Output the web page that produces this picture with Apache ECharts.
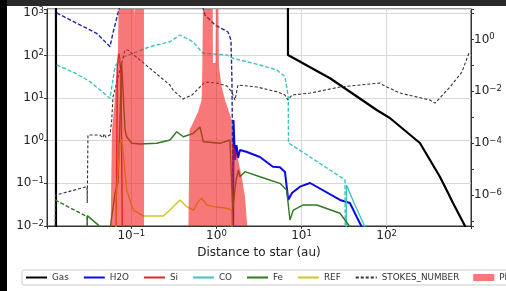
<!DOCTYPE html>
<html>
<head>
<meta charset="utf-8">
<script src="https://cdn.jsdelivr.net/npm/echarts@6/dist/echarts.min.js"></script>
<style>
  html, body { margin: 0; padding: 0; background: #fff; }
  #chart { width: 506px; height: 291px; }
</style>
</head>
<body>
<div id="chart"></div>
<script>
// distance (au), value pairs
var gas = [[0.013, 0.001], [0.013, 1e5], [6.9, 1e5], [6.93, 102.6], [21.6, 29.2], [28.3, 20.3], [76.4, 5.26],
    [109, 3.41], [246, 0.885], [323, 0.353], [424, 0.141], [529, 0.0585], [602, 0.0347], [833, 0.01], [879, 0.0062]];
var h2oIce = [[1.566, 0.001], [1.585, 3.07], [1.651, 0.353], [1.72, 0.794], [1.79, 0.394], [1.89, 0.606], [2.28, 0.545],
    [3.24, 0.416], [4.61, 0.246], [5.57, 0.238], [6.38, 0.185], [6.98, 0.0408], [7.71, 0.0594], [9.57, 0.0836],
    [12.6, 0.102], [28.3, 0.0408], [37.0, 0.0347], [44.4, 0.0165], [50.9, 0.0096], [53, 0.005]];
var h2oGas = [[0.01327, 993], [0.02278, 569], [0.0391, 331], [0.0561, 161], [0.0608, 337], [0.0697, 993], [0.0798, 2500],
    [0.64, 2500], [0.733, 891], [0.962, 519], [1.366, 355], [1.48, 231], [1.52, 26.6], [1.545, 0.606], [1.565, 0.0237], [1.58, 0.001]];
var si = [[0.0659, 0.001], [0.0685, 60], [0.0716, 110], [0.0755, 40], [0.079, 0.001]];
var coIce = [[33.3, 0.001], [33.7, 0.0916], [42.4, 0.0311], [55.6, 0.0095], [58, 0.006]];
var coGas = [[0.01327, 59.8], [0.02176, 38.8], [0.0327, 24.3], [0.0561, 9.91], [0.0643, 54.6], [0.0735, 85.9], [0.1655, 161],
    [0.284, 210], [0.373, 302], [0.53, 210], [0.695, 112], [1.33, 102.6], [1.565, 85.9], [3.24, 59.8], [5.14, 45.6],
    [6.38, 31.8], [6.98, 10.8], [7.02, 0.885], [21.6, 0.206], [32.4, 0.12], [32.8, 0.001]];
var fe = [[0.0301, 0.001], [0.0303, 0.0175], [0.041, 0.0105], [0.046, 0.006], [0.0561, 0.005], [0.0569, 0.01], [0.0643, 0.0594],
    [0.0697, 0.109], [0.0735, 3.07], [0.0769, 65.6], [0.0798, 15.5], [0.0842, 1.79], [0.0881, 1.24], [0.101, 0.871],
    [0.126, 0.838], [0.199, 0.871], [0.284, 1.04], [0.341, 1.63], [0.408, 1.24], [0.535, 1.49], [0.64, 2.10], [0.70, 0.95],
    [1.10, 0.871], [1.44, 1.04], [1.55, 0.0237], [1.70, 0.12], [1.81, 0.206], [1.89, 0.143], [2.16, 0.188], [3.24, 0.143],
    [5.57, 0.1], [6.68, 0.0698], [7.31, 0.0138], [8.0, 0.0237], [10.5, 0.0311], [15.1, 0.0311], [28.3, 0.0199], [37.0, 0.0096], [40, 0.006]];
var feGas = [[0.0127, 0.0408], [0.0303, 0.0165], [0.0309, 0.001]];
var ref = [[0.0659, 0.001], [0.0659, 0.0408], [0.0735, 0.885], [0.0776, 1.04], [0.0818, 0.353], [0.0881, 0.0698], [0.105, 0.0237],
    [0.138, 0.0172], [0.237, 0.0172], [0.284, 0.0237], [0.373, 0.0408], [0.447, 0.0284], [0.535, 0.0237], [0.611, 0.0371],
    [0.67, 0.0447], [0.767, 0.0311], [0.918, 0.0284], [1.32, 0.026], [1.51, 0.0237], [1.565, 0.001]];
// right axis
var stokes = [[0.01267, 1e-8], [0.01285, 9.9e-7], [0.0301, 2.07e-6], [0.0303, 4.9e-7], [0.0309, 2.06e-4], [0.0428, 2.06e-4],
    [0.046, 1.6e-4], [0.048, 2.3e-4], [0.05, 1.7e-4], [0.0561, 2.06e-4], [0.0588, 7.8e-4], [0.0608, 6.0e-3], [0.0672, 0.0209],
    [0.0842, 0.394], [0.0912, 0.394], [0.284, 0.0175], [0.308, 0.01125], [0.404, 5.05e-3], [0.516, 7.2e-3], [0.64, 0.0147],
    [0.733, 0.0229], [1.015, 0.0209], [1.33, 0.016], [1.52, 9.4e-3], [1.65, 4.6e-3], [1.79, 0.0175], [2.99, 0.0147],
    [5.28, 9.4e-3], [6.38, 7.2e-3], [6.92, 4.6e-3], [7.71, 7.2e-3], [12.6, 8.6e-3], [28.3, 0.0147], [83.4, 0.0209],
    [90.5, 0.0175], [143, 8.6e-3], [323, 4.6e-3], [370, 3.5e-3], [555, 0.0147], [767, 0.0557], [927, 0.301]];
var planetesimals = [[0.0561, 0.001], [0.0577, 0.001], [0.0592, 1.79], [0.0625, 5.26], [0.0659, 26.6], [0.0697, 134], [0.0716, 1e4],
    [0.1054, 1e4], [0.1095, 800], [0.1156, 1e4], [0.1405, 1e4], [0.141, 0.001], [0.463, 0.001], [0.482, 1.79], [0.530, 2.61],
    [0.607, 4.72], [0.670, 9.02], [0.682, 53.7], [0.700, 1e4], [0.898, 1e4], [0.910, 66.7], [0.974, 66.7], [0.987, 1e4],
    [1.042, 1e4], [1.071, 53.7], [1.152, 18.5], [1.26, 9.02], [1.51, 3.07], [1.535, 0.885], [1.729, 0.515], [1.979, 0.143],
    [2.163, 0.0486], [2.30, 0.01], [2.32, 0.001]];
var legendNames = ['Gas', 'H2O', 'Si', 'CO', 'Fe', 'REF', 'STOKES_NUMBER', 'PLANETESIMALS'];

var FONT = 'DejaVu Sans';
var plColor = 'rgba(240,30,30,0.6)';

// 10^n labels, only on whole decades
function powLabel(keep) {
    return function (v) {
        var l = Math.log10(v), e = Math.round(l);
        if (Math.abs(l - e) > 1e-6 || !keep(e)) return '';
        return '{b|10}{s|' + (e < 0 ? '\u2212' + (-e) : e) + '}';
    };
}
var rich = {
    b: { fontSize: 12, lineHeight: 14, fontFamily: FONT, color: '#222' },
    s: { fontSize: 8.5, lineHeight: 8, verticalAlign: 'top', fontFamily: FONT, color: '#222' }
};

function line(name, data, color, width, dash, yIdx) {
    return {
        name: name, type: 'line', data: data, yAxisIndex: yIdx || 0,
        symbol: 'none', showSymbol: false, clip: true, z: 3,
        color: color,
        lineStyle: { color: color, width: width, type: dash || 'solid' }
    };
}

var chart = echarts.init(document.getElementById('chart'), null, { renderer: 'canvas' });
chart.setOption({
    animation: false,
    backgroundColor: '#fff',
    grid: { left: 47, right: 35, top: 9, bottom: 65, show: true, borderColor: '#333', borderWidth: 1,
        containLabel: false, outerBoundsMode: 'none' },
    legend: {
        // plain line icons, a filled box for the planetesimal band
        data: legendNames.map(function (n) {
            if (n === 'PLANETESIMALS') return { name: n, icon: 'rect', itemStyle: { color: plColor } };
            return { name: n, itemStyle: { opacity: 0, borderWidth: 0 } };
        }),
        left: 22, top: 270, width: 900, orient: 'horizontal',
        itemWidth: 21, itemHeight: 7, itemGap: 14, padding: [3, 3],
        borderColor: '#ccc', borderWidth: 1, borderRadius: 2, backgroundColor: '#fff',
        textStyle: { fontFamily: FONT, fontSize: 8.8, color: '#333' }
    },
    xAxis: {
        type: 'log', logBase: 10, min: 0.0102, max: 980,
        name: 'Distance to star (au)', nameLocation: 'middle', nameGap: 13,
        nameTextStyle: { fontFamily: FONT, fontSize: 12, color: '#222' },
        axisLine: { lineStyle: { color: '#333' } },
        axisTick: { length: 3, lineStyle: { color: '#333' } },
        axisLabel: { formatter: powLabel(function () { return true; }), rich: rich, margin: 3 },
        splitLine: { show: true, lineStyle: { color: '#d8d8d8', width: 1 } }
    },
    yAxis: [{
        type: 'log', logBase: 10, min: 0.01, max: 1230,
        axisLine: { show: true, lineStyle: { color: '#333' } },
        axisTick: { length: 3, lineStyle: { color: '#333' } },
        axisLabel: { formatter: powLabel(function () { return true; }), rich: rich, margin: 3 },
        splitLine: { show: true, lineStyle: { color: '#d8d8d8', width: 1 } }
    }, {
        type: 'log', logBase: 10, min: 6.31e-8, max: 15.1, position: 'right',
        axisLine: { show: true, lineStyle: { color: '#333' } },
        axisTick: { length: 3, lineStyle: { color: '#333' } },
        axisLabel: { formatter: powLabel(function (e) { return e % 2 === 0; }), rich: rich, margin: 3 },
        splitLine: { show: false }
    }],
    series: [
        line('Gas', gas, '#000', 2.2),
        line('H2O', h2oIce, '#0a0ae8', 2),
        line('H2O gas', h2oGas, '#24249c', 1.4, [4, 2]),
        line('Si', si, '#e02424', 1.4),
        line('CO', coIce, '#3cc4c4', 1.4),
        line('CO gas', coGas, '#3cc4c4', 1.4, [4, 2]),
        line('Fe', fe, '#2e7a1e', 1.4),
        line('Fe gas', feGas, '#2e7a1e', 1.4, [4, 2]),
        line('REF', ref, '#cdc81e', 1.4),
        line('STOKES_NUMBER', stokes, '#333', 1.1, [3, 2], 1),
        {
            name: 'PLANETESIMALS', type: 'line', data: planetesimals, yAxisIndex: 0,
            symbol: 'none', showSymbol: false, clip: true, z: 4,
            color: plColor, itemStyle: { color: plColor },
            lineStyle: { width: 0, color: plColor },
            areaStyle: { color: plColor, opacity: 1, origin: 'start' }
        }
    ],
    graphic: [
        { type: 'rect', left: 0, top: 0, z: 100, shape: { width: 506, height: 6 }, style: { fill: '#2a2a2a' } },
        { type: 'rect', left: 0, top: 0, z: 100, shape: { width: 7, height: 291 }, style: { fill: '#000' } }
    ]
});
</script>
</body>
</html>
